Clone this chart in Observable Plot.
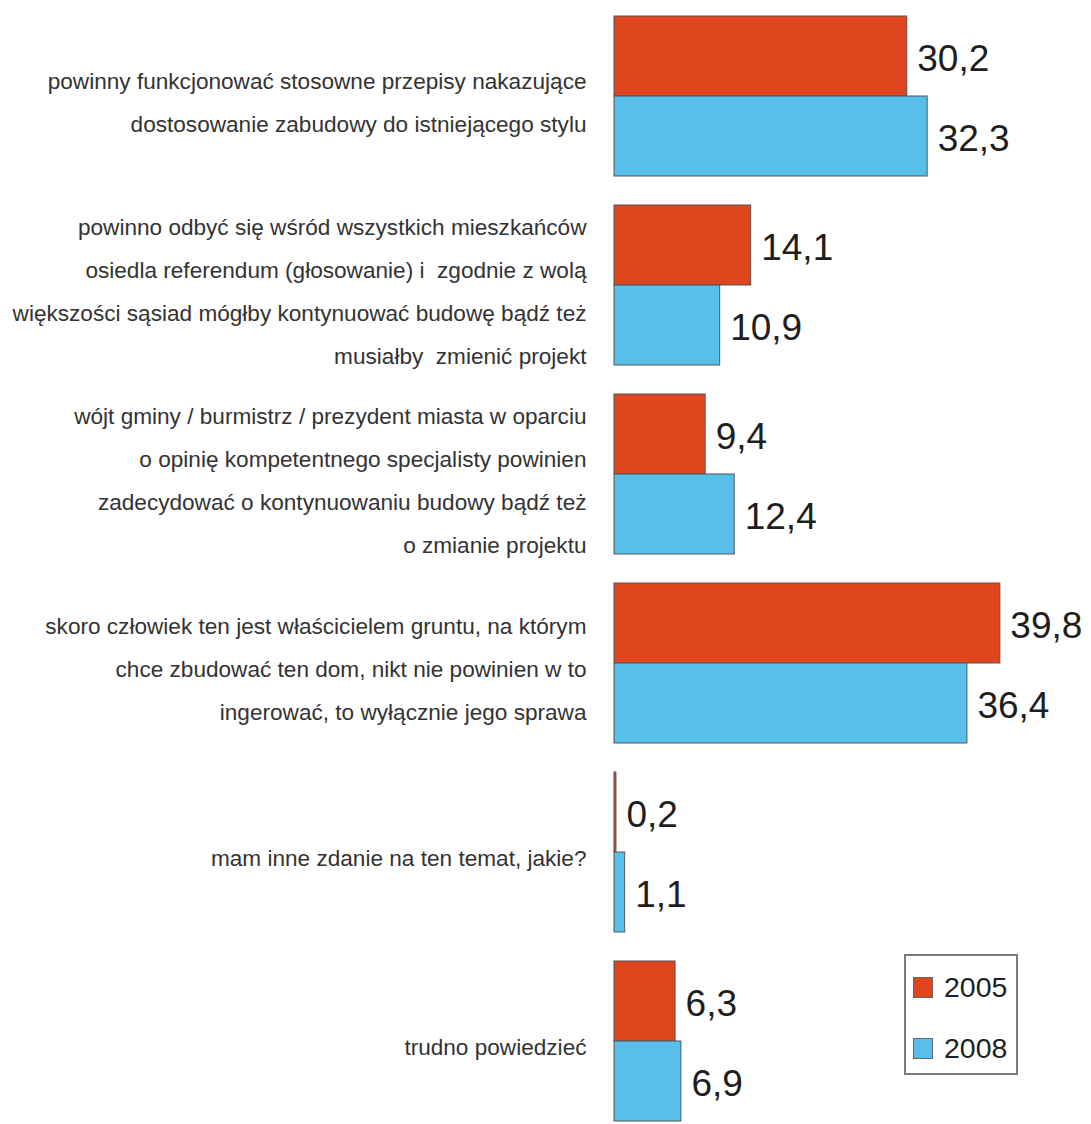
<!DOCTYPE html>
<html>
<head>
<meta charset="utf-8">
<script src="https://cdn.jsdelivr.net/npm/d3@7"></script>
<script src="https://cdn.jsdelivr.net/npm/@observablehq/plot@0.6"></script>
<style>
  html, body { margin: 0; padding: 0; background: #fff; }
  #wrap { position: relative; width: 1091px; height: 1124px; font-family: "Liberation Sans", Arial, sans-serif; }
  #legend { position: absolute; left: 904px; top: 954px; width: 110px; height: 117px; border: 2px solid #7a7a7a; box-sizing: content-box; }
  .item { position: absolute; left: 7px; display: flex; align-items: center; font-size: 28.5px; color: #222; }
  .sw { width: 20px; height: 21px; border: 1px solid #666; margin-right: 11px; box-sizing: border-box; }
</style>
</head>
<body>
<div id="wrap"></div>
<script>
const categories = [
  "powinny funkcjonować stosowne przepisy nakazujące\ndostosowanie zabudowy do istniejącego stylu",
  "powinno odbyć się wśród wszystkich mieszkańców\nosiedla referendum (głosowanie) i  zgodnie z wolą\nwiększości sąsiad mógłby kontynuować budowę bądź też\nmusiałby  zmienić projekt",
  "wójt gminy / burmistrz / prezydent miasta w oparciu\no opinię kompetentnego specjalisty powinien\nzadecydować o kontynuowaniu budowy bądź też\no zmianie projektu",
  "skoro człowiek ten jest właścicielem gruntu, na którym\nchce zbudować ten dom, nikt nie powinien w to\ningerować, to wyłącznie jego sprawa",
  "mam inne zdanie na ten temat, jakie?",
  "trudno powiedzieć"
];
const years = ["2005", "2008"];
const values2005 = [30.2, 14.1, 9.4, 39.8, 0.2, 6.3];
const values2008 = [32.3, 10.9, 12.4, 36.4, 1.1, 6.9];
const colors = ["#e0461e", "#58bfea"];

const data = [];
categories.forEach((c, i) => {
  data.push({cat: c, year: years[0], value: values2005[i]});
  data.push({cat: c, year: years[1], value: values2008[i]});
});
const fmt = v => v.toFixed(1).replace(".", ",");

const chart = Plot.plot({
  width: 1091,
  height: 1124,
  marginLeft: 614,
  marginRight: 0,
  marginTop: 14,
  marginBottom: 0,
  style: {fontFamily: "'Liberation Sans', Arial, sans-serif", background: "#fff"},
  x: {domain: [0, 49.2], axis: null},
  y: {domain: years, padding: 0, axis: null},
  fy: {domain: categories, paddingInner: 0.153, paddingOuter: 0, axis: null},
  color: {domain: years, range: colors},
  marks: [
    Plot.barX(data, {fy: "cat", y: "year", x: "value", fill: "year", stroke: "#555", strokeWidth: 1}),
    Plot.text(data, {fy: "cat", y: "year", x: "value", text: d => fmt(d.value), textAnchor: "start", dx: 10, dy: 3, fontSize: 37, fill: "#1e1e1e"}),
    Plot.text(categories, {fy: d => d, text: d => d, frameAnchor: "left", textAnchor: "end", dx: -28, fontSize: 22.6, lineHeight: 1.9, fill: "#333"})
  ]
});

const wrap = document.getElementById("wrap");
wrap.appendChild(chart);

const legend = document.createElement("div");
legend.id = "legend";
years.forEach((y, i) => {
  const it = document.createElement("div");
  it.className = "item";
  it.style.top = (i === 0 ? 15 : 76) + "px";
  const sw = document.createElement("div");
  sw.className = "sw";
  sw.style.background = colors[i];
  const t = document.createElement("span");
  t.textContent = y;
  it.appendChild(sw);
  it.appendChild(t);
  legend.appendChild(it);
});
wrap.appendChild(legend);
</script>
</body>
</html>
